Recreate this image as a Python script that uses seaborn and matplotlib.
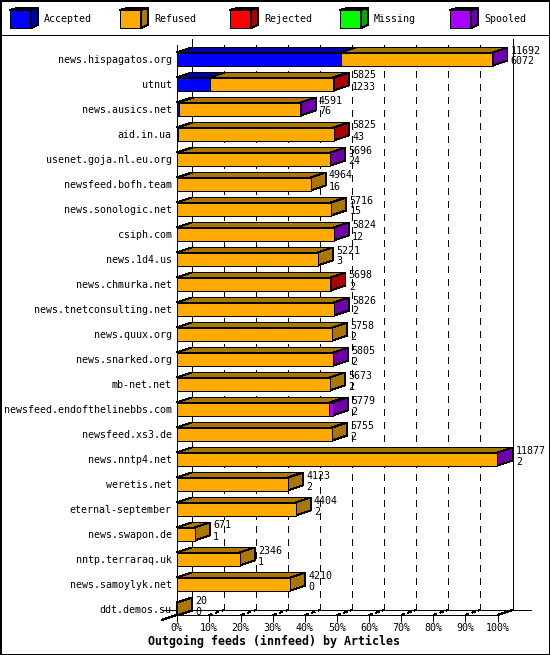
import matplotlib
matplotlib.use("Agg")
import matplotlib.pyplot as plt
from matplotlib.patches import Polygon, Rectangle
import pandas as pd
import seaborn as sns

hosts = ["news.hispagatos.org", "utnut", "news.ausics.net", "aid.in.ua", "usenet.goja.nl.eu.org",
         "newsfeed.bofh.team", "news.sonologic.net", "csiph.com", "news.1d4.us", "news.chmurka.net",
         "news.tnetconsulting.net", "news.quux.org", "news.snarked.org", "mb-net.net",
         "newsfeed.endofthelinebbs.com", "newsfeed.xs3.de", "news.nntp4.net", "weretis.net",
         "eternal-september", "news.swapon.de", "nntp.terraraq.uk", "news.samoylyk.net", "ddt.demos.su"]
accepted = [6072, 1233, 76, 43, 24, 16, 15, 12, 3, 2, 2, 2, 2, 2, 2, 2, 2, 2, 2, 1, 1, 0, 0]
refused = [5608, 4552, 4507, 5773, 5663, 4948, 5701, 5804, 5218, 5688, 5816, 5756, 5795, 5671, 5647, 5753,
           11865, 4121, 4402, 670, 2345, 4210, 20]
rejected = [0, 40, 0, 9, 0, 0, 0, 0, 0, 8, 0, 0, 0, 0, 0, 0, 0, 0, 0, 0, 0, 0, 0]
missing = [0] * 23
spooled = [12, 0, 8, 0, 9, 0, 0, 8, 0, 0, 8, 0, 8, 0, 130, 0, 10, 0, 0, 0, 0, 0, 0]
series_names = ["Accepted", "Refused", "Rejected", "Missing", "Spooled"]
front_colors = ["#0000FF", "#FFAA00", "#FF0000", "#00FF00", "#AA00FF"]
dark_colors = ["#0000AA", "#AA7700", "#AA0000", "#00AA00", "#7000AA"]
tick_percents = list(range(0, 101, 10))
x_title = "Outgoing feeds (innfeed) by Articles"

sns.set_theme(style="white")
plt.rcParams["font.family"] = ["DejaVu Sans Mono"]
plt.rcParams["lines.antialiased"] = False
plt.rcParams["patch.antialiased"] = False

W, H = 550, 655
PX = 0.72
FS = 7.2
fig = plt.figure(figsize=(W / 100, H / 100), dpi=100, facecolor="white")

# overlay in pixel coordinates for the frame and legend keys
bg = fig.add_axes([0, 0, 1, 1], zorder=3)
bg.set_xlim(0, W)
bg.set_ylim(H, 0)
bg.axis("off")
bg.patch.set_alpha(0)
bg.add_patch(Rectangle((0.5, 0.5), W - 1, H - 1, fill=False, ec="black", lw=PX * 1.5))
bg.plot([0, W], [35, 35], color="black", lw=PX)
for i, (name, fc, dc) in enumerate(zip(series_names, front_colors, dark_colors)):
    x0 = 10 + 110 * i
    bg.add_patch(Rectangle((x0, 10), 21, 18, fc=fc, ec="black", lw=PX))
    bg.add_patch(Polygon([(x0, 10), (x0 + 7, 8), (x0 + 28, 8), (x0 + 21, 10)], fc=dc, ec="black", lw=PX))
    bg.add_patch(Polygon([(x0 + 21, 10), (x0 + 28, 8), (x0 + 28, 25), (x0 + 21, 28)], fc=dc, ec="black", lw=PX))
    bg.text(x0 + 34, 19.5, name, fontsize=FS, va="center", ha="left", color="black")

# main axes: front plane of the 3D chart
left, right, top, bottom = 176.5, 497.5, 45, 615
row0, step = 59, 25
ax = fig.add_axes([left / W, 1 - bottom / H, (right - left) / W, (bottom - top) / H], zorder=2)
ax.patch.set_alpha(0)

arrays = [accepted, refused, rejected, missing, spooled]
df = pd.DataFrame(dict(zip(series_names, arrays)), index=hosts)
cum = df.cumsum(axis=1)
totals = cum["Spooled"]
xmax = totals.max()

bar_w = 13 / step
for name, fc in reversed(list(zip(series_names, front_colors))):
    d = pd.DataFrame({"host": hosts, "v": cum[name].values})
    sns.barplot(data=d, y="host", x="v", order=hosts, color=fc, saturation=1, width=bar_w,
                edgecolor="black", linewidth=PX, ax=ax, zorder=3)

ax.set_xlim(0, xmax)
ax.set_ylim((bottom - row0) / step, (top - row0) / step)
dx = 15 / (right - left) * xmax
dy = 5 / step

# grid on the back wall and the floor
tick_vals = [p / 100 * xmax for p in tick_percents]
wall_top = (39 - row0) / step
floor_back = (610 - row0) / step
floor_front = (615 - row0) / step
for i, v in enumerate(tick_vals):
    solid = i in (0, len(tick_vals) - 1)
    ax.plot([v + dx, v + dx], [floor_back, wall_top], color="black", lw=PX, clip_on=False, zorder=1,
            ls="-" if solid else (0, (6, 6)))
    if not solid:
        ax.plot([v, v + dx], [floor_front, floor_back], color="black", lw=PX * 1.3, clip_on=False, zorder=1,
                ls=(0, (3, 3)))
ax.plot([-dx, xmax + dx * 2.25], [floor_back, floor_back], color="black", lw=PX, clip_on=False, zorder=1)
ax.plot([-dx, dx], [floor_front + dy, floor_back], color="black", lw=PX, clip_on=False, zorder=1)
ax.plot([xmax, xmax + dx], [floor_front, floor_back], color="black", lw=PX, clip_on=False, zorder=1)

# 3D faces of every bar, and the two value labels
for r, host in enumerate(hosts):
    y_top = r - bar_w / 2
    y_bot = r + bar_w / 2
    start = 0
    last_dc = dark_colors[1]
    for name, dc in zip(series_names, dark_colors):
        end = cum.loc[host, name]
        if end > start:
            ax.add_patch(Polygon([(start, y_top), (start + dx, y_top - dy), (end + dx, y_top - dy), (end, y_top)],
                                 fc=dc, ec="black", lw=PX, clip_on=False, zorder=2))
            last_dc = dc
        start = end
    end = totals[host]
    ax.add_patch(Polygon([(end, y_top), (end + dx, y_top - dy), (end + dx, y_bot - dy), (end, y_bot)],
                         fc=last_dc, ec="black", lw=PX, clip_on=False, zorder=2))
    ax.text(end + dx * 1.22, r - 8.5 / step, str(int(end)), fontsize=FS, va="center", ha="left",
            color="black", clip_on=False, zorder=5)
    ax.text(end + dx * 1.22, r + 2.5 / step, str(accepted[r]), fontsize=FS, va="center", ha="left",
            color="black", clip_on=False, zorder=5)

ax.set_xticks(tick_vals)
ax.set_xticklabels([f"{p}%" for p in tick_percents], fontsize=FS, color="black")
ax.set_yticks(range(len(hosts)))
ax.set_yticklabels(hosts, fontsize=FS, color="black")
ax.tick_params(axis="x", length=5, width=PX, pad=0.5, color="black", bottom=True)
ax.tick_params(axis="y", length=0, pad=3.5)
ax.set_ylabel("")
ax.set_xlabel(x_title, fontsize=8.4, fontweight="bold", color="black")
ax.xaxis.set_label_coords((274 - left) / (right - left), -(641 - bottom) / (bottom - top), transform=ax.transAxes)
ax.xaxis.label.set_va("center")
for s in ("top", "right"):
    ax.spines[s].set_visible(False)
for s in ("left", "bottom"):
    ax.spines[s].set_visible(True)
    ax.spines[s].set_color("black")
    ax.spines[s].set_linewidth(PX)

fig.savefig("out.png", dpi=100)
